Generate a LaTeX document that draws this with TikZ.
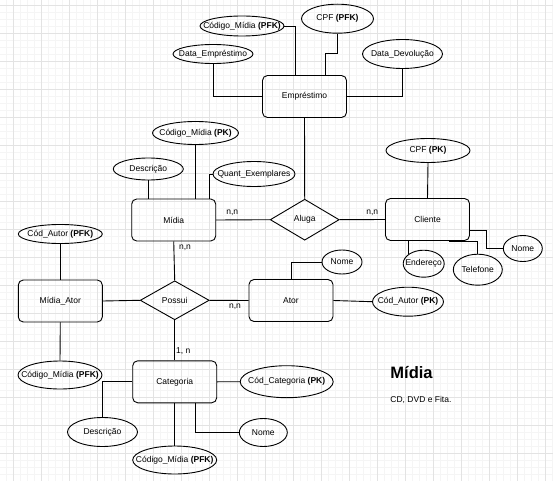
\documentclass[tikz,border=0pt]{standalone}
\usepackage{fontspec}
\setmainfont{Liberation Sans}
\usetikzlibrary{calc,shapes.geometric}
\tikzset{
	entity/.style={draw, rounded corners=5pt, inner sep=0pt, minimum width=84, minimum height=42},
	rel/.style={draw, diamond, inner sep=0pt, minimum width=69, minimum height=#1},
	attr/.style 2 args={draw, ellipse, inner sep=0pt, minimum width=#1, minimum height=#2},
	card/.style={inner sep=0pt},
	majorgrid/.style={color=black!11, line width=0.8pt},
	minorgrid/.style={color=black!4, line width=0.6pt},
}

\begin{document}
\begin{tikzpicture}[x=1pt, y=-1pt, line width=0.9pt, font=\fontsize{8.5}{10}\selectfont]
			%%%%% START %%%%%
			
			\fill[white] (0, 0) rectangle (553, 481);
			\useasboundingbox (0, 0) rectangle (553, 481);
			
			% grid
			\foreach \gx in {0,...,78} \draw[minorgrid] (6+7*\gx, 0) -- (6+7*\gx, 481);
			\foreach \gy in {0,...,67} \draw[minorgrid] (0, 5.3+7*\gy) -- (553, 5.3+7*\gy);
			\foreach \gx in {0,...,19} \draw[majorgrid] (13+28*\gx, 0) -- (13+28*\gx, 481);
			\foreach \gy in {0,...,16} \draw[majorgrid] (0, 5.3+28*\gy) -- (553, 5.3+28*\gy);
			
			% entities and relations
			\node[entity] (emprestimo) at (304.5, 96.5) {Empréstimo};
			\node[entity] (midia) at (173.7, 220) {Mídia};
			\node[entity] (cliente) at (427.5, 219.5) {Cliente};
			\node[entity] (midiaator) at (60.3, 301) {Mídia\_Ator};
			\node[entity] (ator) at (291, 300.5) {Ator};
			\node[entity] (categoria) at (174.7, 381.8) {Categoria};
			
			\node[rel=41] (aluga) at (304.7, 219.7) {Aluga};
			\node[rel=39] (possui) at (174.7, 300.3) {Possui};
			
			% attributes
			\node[attr={84}{20}, label=center:{Código\_Mídia \textbf{(PFK)}}] (cmEmp) at (242, 26) {};
			\node[attr={72}{29}, label=center:{CPF \textbf{(PFK)}}] (cpfEmp) at (337.5, 18.7) {};
			\node[attr={80}{19}, label=center:{Data\_Empréstimo}] (dataEmp) at (213, 54) {};
			\node[attr={80}{29}, label=center:{Data\_Devolução}] (dataDev) at (402.5, 54) {};
			
			\node[attr={86}{23}, label=center:{Código\_Mídia \textbf{(PK)}}] (cmMidia) at (195.5, 133) {};
			\node[attr={70}{22}, label=center:{Descrição}] (descMidia) at (148.3, 169) {};
			\node[attr={82}{25}, label=center:{Quant\_Exemplares}] (quant) at (254, 174) {};
			
			\node[attr={84}{24}, label=center:{CPF \textbf{(PK)}}] (cpfCli) at (428, 150.5) {};
			\node[attr={41}{27}, label=center:{Endereço}] (endereco) at (423.7, 263.7) {};
			\node[attr={49}{31}, label=center:{Telefone}] (telefone) at (477.8, 269.7) {};
			\node[attr={39}{26}, label=center:{Nome}] (nomeCli) at (522.8, 248.5) {};
			
			\node[attr={84}{19}, label=center:{Cód\_Autor \textbf{(PFK)}}] (caPFK) at (60.3, 234) {};
			\node[attr={84}{28}, label=center:{Código\_Mídia \textbf{(PFK)}}] (cmMA) at (60, 375) {};
			
			\node[attr={40}{24}, label=center:{Nome}] (nomeAtor) at (342, 262) {};
			\node[attr={71}{29}, label=center:{Cód\_Autor \textbf{(PK)}}] (caPK) at (408, 301.7) {};
			
			\node[attr={93}{32}, label=center:{Cód\_Categoria \textbf{(PK)}}] (ccPK) at (286.7, 381.7) {};
			\node[attr={70}{29}, label=center:{Descrição}] (descCat) at (102.5, 432) {};
			\node[attr={84}{28}, label=center:{Código\_Mídia \textbf{(PFK)}}] (cmCat) at (174.7, 460) {};
			\node[attr={48}{28}, label=center:{Nome}] (nomeCat) at (263.3, 432.5) {};
			
			% connectors
			\draw (cmEmp.east) -| ([xshift=-9.5]emprestimo.north);
			\draw (cpfEmp.south) -- ++(0, 20) -| ([xshift=21]emprestimo.north);
			\draw (dataEmp.south) |- (emprestimo.west);
			\draw (emprestimo.east) -| (dataDev.south);
			\draw (emprestimo.south) -- (aluga.north);
			
			\draw (cmMidia.south) -- (cmMidia.south |- midia.north);
			\draw (descMidia.south) -- (descMidia.south |- midia.north);
			\draw (quant.west) -| ([xshift=35.3]midia.north);
			\draw (midia.east) -- (aluga.west);
			\draw (aluga.east) -- (cliente.west);
			
			\draw (cpfCli.south) -- (cliente.north);
			\draw (cliente.south -| endereco.north west) -- (endereco.north west);
			\draw ([xshift=-21]cliente.south east) -| (telefone.north);
			\draw ([yshift=-10.5]cliente.east) -- ++(16.5, 0) |- (nomeCli.west);
			
			\draw (caPFK.south) -- (midiaator.north);
			\draw (midiaator.east) -- (possui.west);
			\draw (midia.south) -- (possui.north);
			\draw (possui.east) -- (ator.west);
			\draw (possui.south) -- (categoria.north);
			\draw (midiaator.south) -- (cmMA.north);
			
			\draw (ator.north) |- (nomeAtor.west);
			\draw (ator.east) -- (caPK.west);
			
			\draw (categoria.west) -| (descCat.north);
			\draw (categoria.south) -- (cmCat.north);
			\draw ([xshift=20.3]categoria.south) |- (nomeCat.west);
			\draw (categoria.east) -- (ccPK.west);
			
			% cardinalities
			\node[card] (cMidAluga) at (232.3, 212.3) {n,n};
			\node[card] (cCliAluga) at (372.3, 212.3) {n,n};
			\node[card] (cMidPossui) at (185, 247.3) {n,n};
			\node[card] (cAtorPossui) at (235, 306.7) {n,n};
			\node[card] (cCatPossui) at (183.3, 351) {1, n};
			
			% legend
			\node[anchor=west, inner sep=0pt, font=\bfseries\fontsize{16.5}{18}\selectfont] (titulo) at (390, 373) {Mídia};
			\node[anchor=west, inner sep=0pt] (tipos) at (390, 400) {CD, DVD e Fita.};
			
			%%%%% END %%%%%
\end{tikzpicture}
\end{document}
